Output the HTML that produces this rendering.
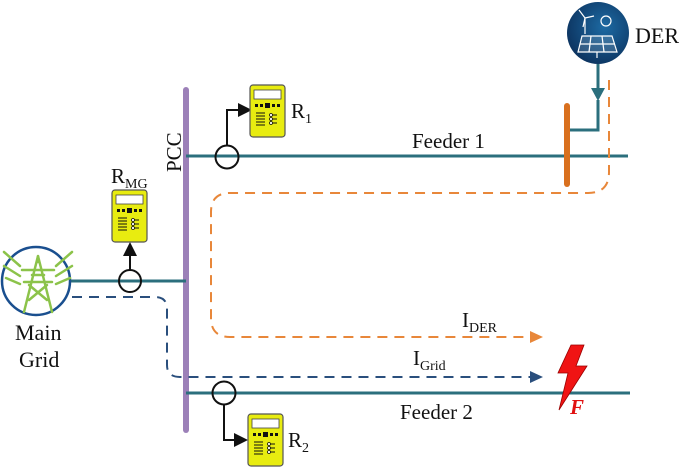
<!DOCTYPE html>
<html><head><meta charset="utf-8"><style>
html,body{margin:0;padding:0;background:#fff;}
svg{display:block;}
svg text{font-family:"Times New Roman","Liberation Serif",Times,"DejaVu Serif",serif;fill:#111;}
</style></head><body>
<svg width="685" height="467" viewBox="0 0 685 467" xmlns="http://www.w3.org/2000/svg">
<defs>
<g id="relay">
<rect x="0" y="0" width="35" height="52" rx="3" fill="#e8ec10" stroke="#555" stroke-width="1.2"/>
<rect x="4" y="5" width="27" height="9" fill="#fff" stroke="#444" stroke-width="0.8"/>
<g fill="#111"><rect x="5" y="19" width="3" height="3"/><rect x="10" y="19" width="3" height="3"/><rect x="15" y="18" width="5" height="5"/><rect x="22" y="19" width="3" height="3"/><rect x="27" y="19" width="3" height="3"/></g>
<g stroke="#111" stroke-width="1"><line x1="6" y1="28" x2="15" y2="28"/><line x1="6" y1="31" x2="15" y2="31"/><line x1="6" y1="34" x2="15" y2="34"/><line x1="6" y1="37" x2="15" y2="37"/><line x1="6" y1="40" x2="15" y2="40"/><line x1="21" y1="30" x2="27" y2="30"/><line x1="21" y1="34" x2="27" y2="34"/><line x1="21" y1="38" x2="27" y2="38"/></g>
<g fill="#fff" stroke="#111" stroke-width="0.8"><circle cx="21" cy="30" r="1.5"/><circle cx="21" cy="34" r="1.5"/><circle cx="21" cy="38" r="1.5"/></g>
</g>
<radialGradient id="dg" cx="0.6" cy="0.4" r="0.7"><stop offset="0" stop-color="#1d6aa3"/><stop offset="1" stop-color="#0b2f5a"/></radialGradient>
</defs>

<line x1="186" y1="90" x2="186" y2="430" stroke="#9c80b8" stroke-width="6" stroke-linecap="round"/>
<text transform="translate(181,172) rotate(-90)" font-size="21">PCC</text>

<line x1="186" y1="156" x2="628" y2="156" stroke="#2b6f7d" stroke-width="3"/>
<line x1="186" y1="393" x2="630" y2="393" stroke="#2b6f7d" stroke-width="3"/>
<line x1="70" y1="281" x2="186" y2="281" stroke="#2b6f7d" stroke-width="3"/>

<text x="412" y="148" font-size="21">Feeder 1</text>
<text x="400" y="419" font-size="21">Feeder 2</text>

<g fill="none" stroke="#111" stroke-width="2">
<circle cx="227" cy="157" r="11.5"/>
<polyline points="227,145 227,110 240,110"/>
<circle cx="130" cy="281" r="11"/>
<line x1="130" y1="270" x2="130" y2="254"/>
<circle cx="224" cy="393" r="11.5"/>
<polyline points="224,405 224,440 236,440"/>
</g>
<polygon points="238,103 252,110 238,117" fill="#111"/>
<polygon points="123,256 130,242 137,256" fill="#111"/>
<polygon points="234,433 248,440 234,447" fill="#111"/>

<use href="#relay" x="250" y="85"/>
<use href="#relay" x="112" y="190"/>
<use href="#relay" x="248" y="414"/>

<text x="291" y="118" font-size="21">R<tspan font-size="14" dy="5">1</tspan></text>
<text x="111" y="183" font-size="21">R<tspan font-size="14" dy="5">MG</tspan></text>
<text x="288" y="447" font-size="21">R<tspan font-size="14" dy="5">2</tspan></text>

<circle cx="36" cy="281" r="34" fill="#fff" stroke="#1a4f8f" stroke-width="2.5"/>
<g stroke="#8cc34a" stroke-width="2.5" fill="none" stroke-linecap="round">
<polyline points="24,312 38,256 52,312"/>
<line x1="38" y1="256" x2="38" y2="262"/>
<line x1="22" y1="270" x2="54" y2="270"/><line x1="24" y1="282" x2="52" y2="282"/>
<line x1="29" y1="285" x2="47" y2="300"/><line x1="47" y1="285" x2="29" y2="300"/>
<line x1="32" y1="275" x2="44" y2="275"/>
<line x1="4" y1="252" x2="20" y2="266"/><line x1="4" y1="266" x2="20" y2="276"/><line x1="6" y1="278" x2="20" y2="284"/>
<line x1="72" y1="252" x2="56" y2="266"/><line x1="72" y1="266" x2="56" y2="276"/><line x1="70" y1="278" x2="56" y2="284"/>
</g>
<text x="15" y="340" font-size="22">Main</text>
<text x="19" y="367" font-size="22">Grid</text>

<path d="M72,297 H155 Q167,297 167,309 V365 Q167,377 180,377 H530" fill="none" stroke="#2a4f7d" stroke-width="2" stroke-dasharray="10,7"/>
<polygon points="530,371 543,377 530,383" fill="#2a4f7d"/>
<text x="413" y="365" font-size="21">I<tspan font-size="14" dy="5">Grid</tspan></text>

<path d="M609,80 V172 Q609,193 588,193 H230 Q211,193 211,212 V318 Q211,337 230,337 H530" fill="none" stroke="#e8873a" stroke-width="2" stroke-dasharray="10,7"/>
<polygon points="530,331 543,337 530,343" fill="#e8873a"/>
<text x="462" y="327" font-size="21">I<tspan font-size="14" dy="5">DER</tspan></text>

<circle cx="598" cy="33" r="31" fill="url(#dg)"/>
<g stroke="#fff" stroke-width="1.2" fill="none">
<polygon points="582,36 612,36 617,52 578,52" fill="#fff" fill-opacity="0.15"/>
<line x1="580" y1="44" x2="615" y2="44"/><line x1="591" y1="36" x2="589" y2="52"/><line x1="602" y1="36" x2="604" y2="52"/>
<line x1="597" y1="52" x2="597" y2="58"/>
<line x1="585" y1="34" x2="585" y2="18"/><line x1="585" y1="18" x2="579" y2="10"/><line x1="585" y1="18" x2="594" y2="16"/><line x1="585" y1="18" x2="583" y2="27"/>
<circle cx="606" cy="21" r="5"/>
</g>
<text x="635" y="43" font-size="22">DER</text>
<line x1="598" y1="64" x2="598" y2="92" stroke="#2b6f7d" stroke-width="3"/>
<polygon points="591,88 605,88 598,101" fill="#2b6f7d"/>
<polyline points="598,100 598,130 569,130" fill="none" stroke="#2b6f7d" stroke-width="3"/>
<line x1="567" y1="106" x2="567" y2="184" stroke="#d9701e" stroke-width="6" stroke-linecap="round"/>

<polygon points="571,345 584,345 576,366 587,366 559,410 568,373 558,373" fill="#f01414" stroke="#900" stroke-width="0.8"/>
<text x="570" y="414" font-size="21" font-weight="bold" font-style="italic" style="fill:#e01010">F</text>
</svg>
</body></html>
